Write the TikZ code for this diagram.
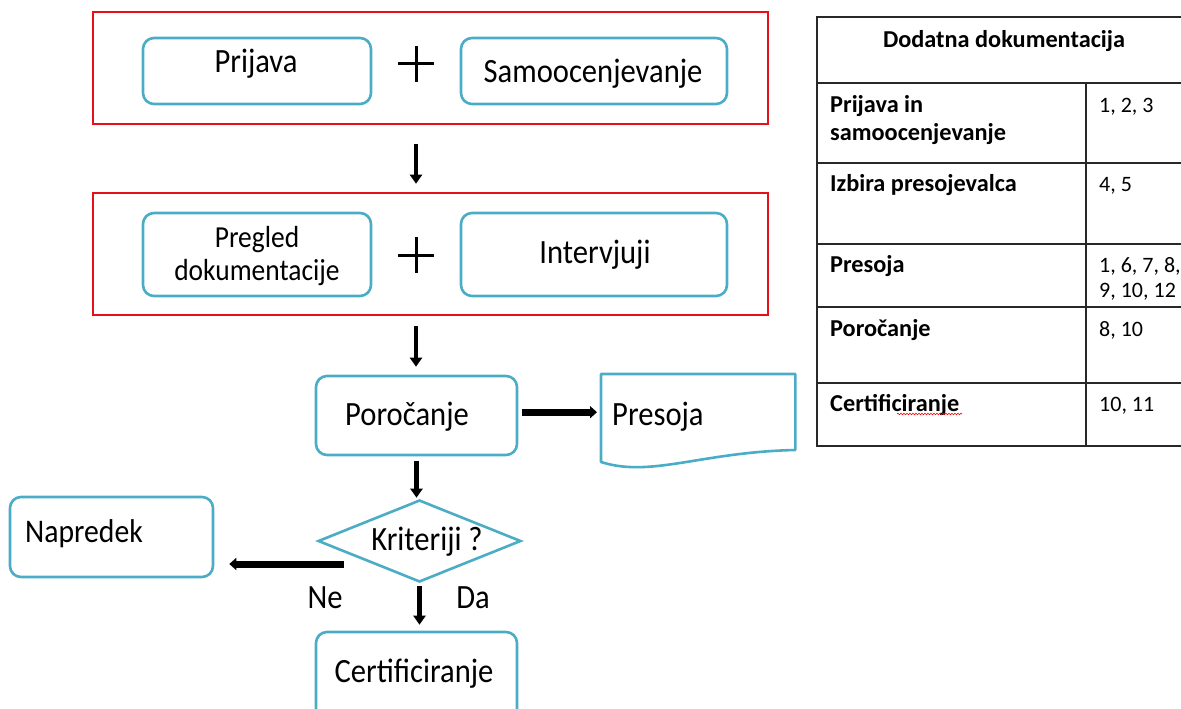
\documentclass[tikz,border=0pt]{standalone}
\usepackage{fontspec}
\setmainfont{Carlito}
\newfontfamily\diagfont{Carlito}[FakeStretch=0.9]
\usetikzlibrary{arrows.meta,shapes.geometric,calc,decorations.pathmorphing}
\definecolor{tealbox}{RGB}{75,172,198}
\definecolor{redframe}{RGB}{228,18,24}
\definecolor{tabgray}{RGB}{40,40,40}
\begin{document}
\begin{tikzpicture}[x=1pt,y=-1pt,
  box/.style={draw=tealbox, line width=2.6pt, rounded corners=11pt, inner sep=0pt},
  frame/.style={draw=redframe, line width=2.6pt, inner sep=0pt},
  txt/.style={font=\diagfont\fontsize{34}{38}\selectfont, inner sep=0pt, anchor=base},
  smalltxt/.style={font=\diagfont\fontsize{30.5}{35}\selectfont, inner sep=0pt, anchor=base},
  arr/.style={line width=4.2pt, -{Triangle[width=12pt,length=9pt]}},
  fat/.style={line width=7pt, -{Triangle[width=12pt,length=7pt]}},
  plusline/.style={line width=3pt},
  tabline/.style={draw=tabgray, line width=1.8pt},
  tab/.style={font=\fontsize{22}{27}\selectfont, inner sep=0pt, anchor=base west},
  tabb/.style={font=\fontsize{24.3}{27}\selectfont\bfseries, inner sep=0pt, anchor=base west}
]
\clip (0,0) rectangle (1181,709);

% red frames
\node[frame, minimum width=675pt, minimum height=112pt] (fr1) at (430.5,68) {};
\node[frame, minimum width=675pt, minimum height=122pt] (fr2) at (430.5,254) {};

% top row
\node[box, minimum width=228pt, minimum height=66pt] (prij) at (257,71) {};
\node[txt] (prijT) at (256,73) {Prijava};
\node[inner sep=0pt] (plus1) at (416,64) {};
\draw[plusline] ($(plus1)+(-18,0)$) -- ($(plus1)+(18,0)$);
\draw[plusline] ($(plus1)+(0,-18)$) -- ($(plus1)+(0,18)$);
\node[box, minimum width=266pt, minimum height=66pt] (samo) at (594,71) {};
\node[txt] (samoT) at (593,82) {Samoocenjevanje};

% second row
\node[box, minimum width=228pt, minimum height=83pt] (preg) at (257,254.5) {};
\node[smalltxt] (pregT1) at (257,247) {Pregled};
\node[smalltxt] (pregT2) at (257,280) {dokumentacije};
\node[inner sep=0pt] (plus2) at (416,255) {};
\draw[plusline] ($(plus2)+(-18,0)$) -- ($(plus2)+(18,0)$);
\draw[plusline] ($(plus2)+(0,-18)$) -- ($(plus2)+(0,18)$);
\node[box, minimum width=266pt, minimum height=83pt] (interv) at (594,254.5) {};
\node[txt] (intervT) at (595,263) {Intervjuji};

% Porocanje
\node[box, minimum width=201pt, minimum height=79pt] (poro) at (416.5,415.5) {};
\node[txt] (poroT) at (407,425) {Poročanje};

% Presoja document
\node[inner sep=0pt, minimum width=194pt, minimum height=76pt, anchor=north west] (pres) at (601,374) {};
\draw[draw=tealbox, line width=2.6pt, line join=round]
  (pres.north east) -- (pres.north west) -- ($(pres.north west)+(0,88)$)
  .. controls ($(pres.north west)+(50,104)$) and ($(pres.north west)+(100,78)$) ..
  ($(pres.north east)+(0,76)$) -- cycle;
\node[font=\diagfont\fontsize{34}{38}\selectfont, inner sep=0pt, anchor=base west] (presT) at (612,425) {Presoja};

% Kriteriji diamond
\node[diamond, draw=tealbox, line width=2.6pt, minimum width=203pt, minimum height=82pt, inner sep=0pt] (krit) at (419.5,541) {};
\node[txt] (kritT) at (427,550) {Kriteriji ?};

% Napredek
\node[box, minimum width=203pt, minimum height=80pt] (napr) at (111.5,537) {};
\node[font=\diagfont\fontsize{33}{38}\selectfont, inner sep=0pt, anchor=base west] (naprT) at (25,542) {Napredek};

% Certificiranje
\node[box, minimum width=201pt, minimum height=100pt] (cert) at (416.5,682) {};
\node[txt] (certT) at (414,682) {Certificiranje};

% labels
\node[txt] (ne) at (325,608) {Ne};
\node[txt] (da) at (473,608) {Da};

% connectors
\draw[arr, shorten <=19pt, shorten >=8pt] (plus1 |- fr1.south) -- (plus1 |- fr2.north);
\draw[arr, shorten <=10pt, shorten >=8pt] (plus2 |- fr2.south) -- (plus2 |- poro.north);
\draw[arr, shorten <=5pt, shorten >=1pt] (poro.south) -- (poro.south |- krit.north);
\draw[arr, shorten <=3pt, shorten >=6pt] (krit.south) -- (krit.south |- cert.north);
\draw[fat, shorten <=4pt, shorten >=4pt] (poro.east |- pres.west) -- (pres.west);
\coordinate (neS) at (344,564);
\draw[fat, shorten >=15pt] (neS) -- (neS -| napr.east);

% table
\draw[tabline] (1190,17) -- (817,17) -- (817,446) -- (1190,446);
\draw[tabline] (817,83) -- (1190,83);
\draw[tabline] (1086,83) -- (1086,446);
\draw[tabline] (817,163) -- (1190,163);
\draw[tabline] (817,244) -- (1190,244);
\draw[tabline] (817,307) -- (1190,307);
\draw[tabline] (817,383) -- (1190,383);

\node[tabb, anchor=base] (thead) at (1004,48) {Dodatna dokumentacija};
\node[tabb] (r1a) at (830,113) {Prijava in};
\node[tabb] (r1b) at (830,140) {samoocenjevanje};
\node[tab] (r1n) at (1099,112) {1, 2, 3};
\node[tabb] (r2a) at (830,191) {Izbira presojevalca};
\node[tab] (r2n) at (1099,191) {4, 5};
\node[tabb] (r3a) at (830,272) {Presoja};
\node[tab] (r3n) at (1099,272) {1, 6, 7, 8,};
\node[tab] (r3m) at (1099,297) {9, 10, 12};
\node[tabb] (r4a) at (830,336) {Poročanje};
\node[tab] (r4n) at (1099,336) {8, 10};
\node[tabb] (r5a) at (830,411) {Certificiranje};
\node[tab] (r5n) at (1099,411) {10, 11};
\draw[red, line width=0.6pt, decorate, decoration={snake, amplitude=0.8pt, segment length=3pt}] (897,414) -- (962,414);
\end{tikzpicture}
\end{document}
